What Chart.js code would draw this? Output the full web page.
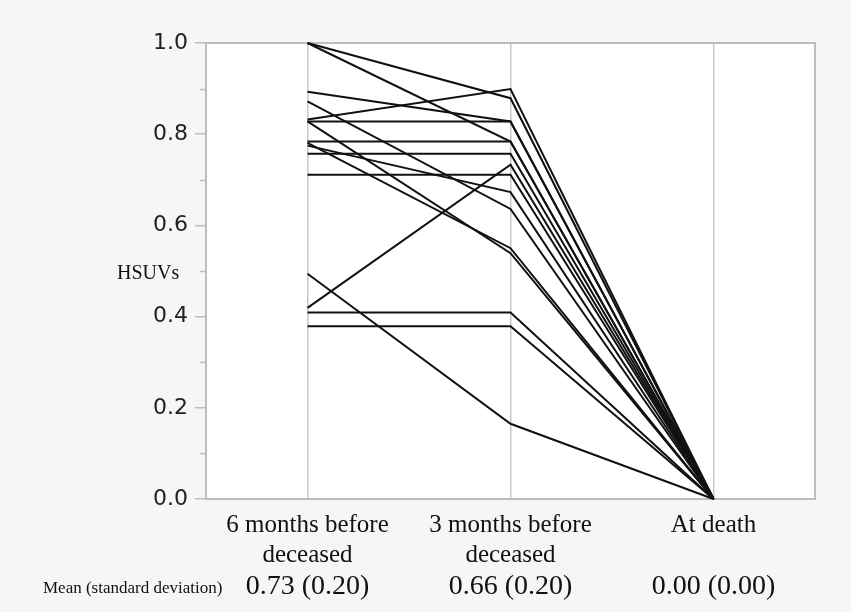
<!DOCTYPE html>
<html>
<head>
<meta charset="utf-8">
<script src="https://cdn.jsdelivr.net/npm/chart.js@4.4.1/dist/chart.umd.min.js"></script>
<style>
  html, body { margin: 0; padding: 0; background: #f6f6f6; }
  #wrap { width: 851px; height: 612px; position: relative; }
</style>
</head>
<body>
<div id="wrap"><canvas id="hsuvChart"></canvas></div>
<script>
// time points on the x axis
const categories = [['6 months before', 'deceased'], ['3 months before', 'deceased'], 'At death'];

// one value per patient at each time point
const sixMonths   = [1.00, 1.00, 0.893, 0.872, 0.832, 0.828, 0.828, 0.784, 0.781, 0.775, 0.757, 0.711, 0.419, 0.409, 0.379, 0.494];
const threeMonths = [0.879, 0.784, 0.828, 0.636, 0.899, 0.828, 0.539, 0.784, 0.550, 0.673, 0.757, 0.711, 0.733, 0.409, 0.379, 0.165];
const atDeath     = [0, 0, 0, 0, 0, 0, 0, 0, 0, 0, 0, 0, 0, 0, 0, 0];

const meanSd = ['0.73 (0.20)', '0.66 (0.20)', '0.00 (0.00)'];
const meanLabel = 'Mean (standard deviation)';
const yTitle = 'HSUVs';

const datasets = sixMonths.map((v, i) => ({
  data: [v, threeMonths[i], atDeath[i]],
  borderColor: '#111',
  borderWidth: 2,
  pointRadius: 0,
  fill: false,
  tension: 0,
  clip: false
}));

const gray = '#bdbdbd';

// background, plot frame, minor ticks and the extra text rows
const decorPlugin = {
  id: 'decor',
  beforeDraw(chart) {
    const { ctx, chartArea: a } = chart;
    ctx.save();
    ctx.fillStyle = '#f6f6f6';
    ctx.fillRect(0, 0, chart.width, chart.height);
    ctx.fillStyle = '#fff';
    ctx.fillRect(a.left, a.top, a.right - a.left, a.bottom - a.top);
    ctx.restore();
  },
  beforeDatasetsDraw(chart) {
    const { ctx, chartArea: a, scales } = chart;
    ctx.save();
    ctx.strokeStyle = gray;
    ctx.lineWidth = 2;
    ctx.strokeRect(a.left, a.top, a.right - a.left, a.bottom - a.top);

    // minor ticks at odd tenths
    ctx.lineWidth = 1.5;
    for (let k = 1; k < 10; k += 2) {
      const y = Math.round(scales.y.getPixelForValue(k / 10)) + 0.5;
      ctx.beginPath();
      ctx.moveTo(a.left - 6, y);
      ctx.lineTo(a.left, y);
      ctx.stroke();
    }
    ctx.restore();
  },
  afterDraw(chart) {
    const { ctx, scales } = chart;
    ctx.save();
    ctx.fillStyle = '#111';
    ctx.textBaseline = 'alphabetic';

    ctx.font = '20px "Liberation Serif", serif';
    ctx.textAlign = 'left';
    ctx.fillText(yTitle, 117, 279);

    ctx.font = '17px "Liberation Serif", serif';
    ctx.fillText(meanLabel, 43, 593);

    ctx.font = '28px "Liberation Serif", serif';
    ctx.textAlign = 'center';
    meanSd.forEach((t, i) => {
      ctx.fillText(t, scales.x.getPixelForValue(i), 594);
    });
    ctx.restore();
  }
};

new Chart(document.getElementById('hsuvChart'), {
  type: 'line',
  data: { labels: categories, datasets: datasets },
  options: {
    responsive: true,
    maintainAspectRatio: false,
    animation: false,
    layout: { padding: { top: 43, right: 36, left: 0, bottom: 0 } },
    plugins: {
      legend: { display: false },
      tooltip: { enabled: false }
    },
    scales: {
      x: {
        type: 'category',
        offset: true,
        grid: { display: true, color: '#c8c8c8', lineWidth: 1.5, drawTicks: false, offset: false },
        border: { display: false },
        ticks: {
          color: '#111',
          padding: 11,
          maxRotation: 0,
          autoSkip: false,
          font: { family: '"Liberation Serif", serif', size: 25, lineHeight: 1.2 }
        },
        afterFit(scale) { scale.height = 113; }
      },
      y: {
        min: 0,
        max: 1,
        grid: { display: true, drawOnChartArea: false, drawTicks: true, tickLength: 11, color: gray, lineWidth: 1.5 },
        border: { display: false },
        ticks: {
          stepSize: 0.2,
          padding: 7,
          color: '#222',
          font: { family: '"DejaVu Sans", sans-serif', size: 22 },
          callback: (v) => Number(v).toFixed(1)
        },
        afterFit(scale) { scale.width = 206; }
      }
    }
  },
  plugins: [decorPlugin]
});
</script>
</body>
</html>
